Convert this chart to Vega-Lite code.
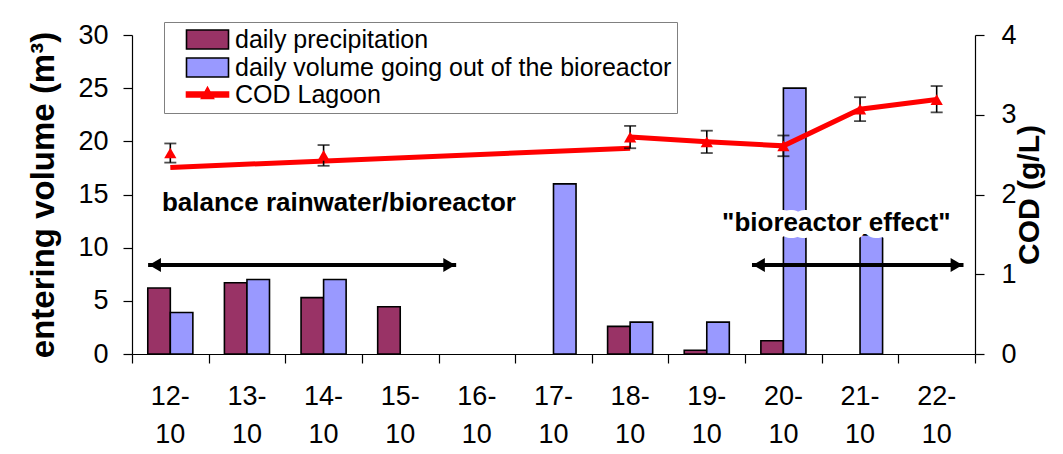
{
  "$schema": "https://vega.github.io/schema/vega-lite/v6.json",
  "width": 843,
  "height": 319,
  "autosize": {"type": "none"},
  "padding": {"left": 132, "top": 35, "right": 88, "bottom": 100},
  "background": "white",
  "config": {
    "view": {"stroke": null},
    "font": "Liberation Sans",
    "axis": {"domainColor": "black", "tickColor": "black", "labelColor": "black", "titleColor": "black", "grid": false, "domainWidth": 1.2, "tickWidth": 1.2, "labelFont": "Liberation Sans", "titleFont": "Liberation Sans"}
  },
  "datasets": {
    "bars": [
      {"date": "12-10", "series": "daily precipitation", "vol": 6.2},
      {"date": "12-10", "series": "daily volume going out of the bioreactor", "vol": 3.9},
      {"date": "13-10", "series": "daily precipitation", "vol": 6.7},
      {"date": "13-10", "series": "daily volume going out of the bioreactor", "vol": 7.0},
      {"date": "14-10", "series": "daily precipitation", "vol": 5.3},
      {"date": "14-10", "series": "daily volume going out of the bioreactor", "vol": 7.0},
      {"date": "15-10", "series": "daily precipitation", "vol": 4.45},
      {"date": "17-10", "series": "daily volume going out of the bioreactor", "vol": 16.0},
      {"date": "18-10", "series": "daily precipitation", "vol": 2.6},
      {"date": "18-10", "series": "daily volume going out of the bioreactor", "vol": 3.0},
      {"date": "19-10", "series": "daily precipitation", "vol": 0.35},
      {"date": "19-10", "series": "daily volume going out of the bioreactor", "vol": 3.0},
      {"date": "20-10", "series": "daily precipitation", "vol": 1.25},
      {"date": "20-10", "series": "daily volume going out of the bioreactor", "vol": 25.0},
      {"date": "21-10", "series": "daily volume going out of the bioreactor", "vol": 11.2}
    ],
    "cod": [
      {"date": "12-10", "cod": 2.52, "lo": 2.40, "hi": 2.64},
      {"date": "14-10", "cod": 2.49, "lo": 2.36, "hi": 2.62},
      {"date": "18-10", "cod": 2.72, "lo": 2.58, "hi": 2.86},
      {"date": "19-10", "cod": 2.66, "lo": 2.52, "hi": 2.80},
      {"date": "20-10", "cod": 2.61, "lo": 2.48, "hi": 2.74},
      {"date": "21-10", "cod": 3.07, "lo": 2.92, "hi": 3.22},
      {"date": "22-10", "cod": 3.19, "lo": 3.03, "hi": 3.36}
    ],
    "codline": [
      {"seg": "a", "date": "12-10", "cod": 2.34},
      {"seg": "a", "date": "18-10", "cod": 2.58},
      {"seg": "b", "date": "18-10", "cod": 2.72},
      {"seg": "b", "date": "19-10", "cod": 2.66},
      {"seg": "b", "date": "20-10", "cod": 2.61},
      {"seg": "b", "date": "21-10", "cod": 3.07},
      {"seg": "b", "date": "22-10", "cod": 3.19}
    ],
    "arrows": [
      {"x1": 0.21, "x2": 4.23, "yv": 8.37},
      {"x1": 8.09, "x2": 10.85, "yv": 8.37}
    ],
    "heads": [
      {"pos": 0.3, "dir": "left", "yv": 8.37},
      {"pos": 4.14, "dir": "right", "yv": 8.37},
      {"pos": 8.18, "dir": "left", "yv": 8.37},
      {"pos": 10.76, "dir": "right", "yv": 8.37}
    ],
    "notes": [
      {"pos": 0.39, "yv": 13.45, "label": "balance rainwater/bioreactor"},
      {"pos": 7.7, "yv": 11.55, "label": "\"bioreactor effect\""}
    ]
  },
  "layer": [
    {
      "data": {"name": "bars"},
      "mark": {"type": "bar", "stroke": "black", "strokeWidth": 1.6},
      "encoding": {
        "x": {
          "field": "date", "type": "ordinal", "sort": null,
          "scale": {"domain": ["12-10","13-10","14-10","15-10","16-10","17-10","18-10","19-10","20-10","21-10","22-10"], "paddingInner": 0, "paddingOuter": 0},
          "axis": {"orient": "bottom", "title": null, "labelAngle": 0, "labelExpr": "slice(datum.value,0,3)", "labelFontSize": 27, "labelPadding": 29, "ticks": false, "tickSize": 0, "domain": false}
        },
        "xOffset": {"field": "series", "type": "nominal", "scale": {"domain": ["daily precipitation", "daily volume going out of the bioreactor"], "paddingInner": 0, "paddingOuter": 0.7}},
        "y": {
          "field": "vol", "type": "quantitative",
          "scale": {"domain": [0, 30], "nice": false},
          "axis": {"orient": "left", "values": [0,5,10,15,20,25,30], "title": "entering volume  (m³)", "titleFontSize": 33, "titleFontWeight": "bold", "labelFontSize": 27, "tickSize": 9, "labelPadding": 15, "titlePadding": 17}
        },
        "color": {
          "field": "series", "type": "nominal",
          "scale": {"domain": ["daily precipitation", "daily volume going out of the bioreactor", "COD Lagoon"], "range": ["#993366", "#9999FF", "#FF0000"]},
          "legend": {
            "orient": "none", "legendX": 32, "legendY": -13, "title": null,
            "labelFont": "Liberation Sans", "labelFontSize": 25, "labelColor": "black", "labelLimit": 1000,
            "labelExpr": "datum.label == 'daily volume going out of the bioreactor' ? datum.label + '   ' : datum.label",
            "symbolType": "M-2.1,-0.95H2.1V0.95H-2.1Z", "symbolSize": 400, "symbolStrokeWidth": 1.6, "symbolStrokeColor": "black",
            "labelOffset": 15, "symbolOffset": 26, "rowPadding": 1, "padding": 5,
            "strokeColor": "#808080", "fillColor": "white",
            "encode": {"symbols": {"update": {
              "stroke": {"signal": "datum.value === 'COD Lagoon' ? '#FF0000' : '#000000'"},
              "shape": {"signal": "datum.value === 'COD Lagoon' ? 'M-2.1,-0.25H2.1V0.25H-2.1Z M-0.6,0.4L0,-0.7L0.6,0.4Z' : 'M-2.1,-0.95H2.1V0.95H-2.1Z'"}
            }}}
          }
        }
      }
    },
    {
      "layer": [
        {
          "data": {"name": "codline"},
          "mark": {"type": "line", "color": "#FF0000", "strokeWidth": 5},
          "encoding": {
            "x": {"field": "date", "type": "ordinal", "sort": null, "scale": {"domain": ["12-10","13-10","14-10","15-10","16-10","17-10","18-10","19-10","20-10","21-10","22-10"], "paddingInner": 0, "paddingOuter": 0},
              "axis": {"orient": "bottom", "title": null, "labelAngle": 0, "labelExpr": "slice(datum.value,3)", "labelFontSize": 27, "labelPadding": 67, "ticks": false, "tickSize": 0, "domain": false}},
            "y": {"field": "cod", "type": "quantitative", "scale": {"domain": [0, 4], "nice": false},
              "axis": {"orient": "right", "values": [0,1,2,3,4], "title": "COD (g/L)", "titleFontSize": 30, "titleFontWeight": "bold", "labelFontSize": 27, "tickSize": 9, "labelPadding": 17, "titleAngle": -90, "titleBaseline": "top", "titlePadding": -2}},
            "detail": {"field": "seg", "type": "nominal"}
          }
        },
        {
          "data": {"name": "cod"},
          "mark": {"type": "rule", "color": "black", "strokeWidth": 1.6},
          "encoding": {
            "x": {"field": "date", "type": "ordinal", "sort": null,
              "axis": {"orient": "bottom", "title": null, "labelAngle": 0, "labelExpr": "slice(datum.value,3)", "labelFontSize": 27, "labelPadding": 67, "ticks": false, "tickSize": 0, "domain": false}},
            "y": {"field": "lo", "type": "quantitative",
              "axis": {"orient": "right", "values": [0,1,2,3,4], "title": "COD (g/L)", "titleFontSize": 30, "titleFontWeight": "bold", "labelFontSize": 27, "tickSize": 9, "labelPadding": 17, "titleAngle": -90, "titleBaseline": "top", "titlePadding": -2}},
            "y2": {"field": "hi"}
          }
        },
        {
          "data": {"name": "cod"},
          "mark": {"type": "tick", "orient": "horizontal", "color": "black", "size": 12, "thickness": 1.8},
          "encoding": {
            "x": {"field": "date", "type": "ordinal", "sort": null,
              "axis": {"orient": "bottom", "title": null, "labelAngle": 0, "labelExpr": "slice(datum.value,3)", "labelFontSize": 27, "labelPadding": 67, "ticks": false, "tickSize": 0, "domain": false}},
            "y": {"field": "lo", "type": "quantitative",
              "axis": {"orient": "right", "values": [0,1,2,3,4], "title": "COD (g/L)", "titleFontSize": 30, "titleFontWeight": "bold", "labelFontSize": 27, "tickSize": 9, "labelPadding": 17, "titleAngle": -90, "titleBaseline": "top", "titlePadding": -2}}
          }
        },
        {
          "data": {"name": "cod"},
          "mark": {"type": "tick", "orient": "horizontal", "color": "black", "size": 12, "thickness": 1.8},
          "encoding": {
            "x": {"field": "date", "type": "ordinal", "sort": null,
              "axis": {"orient": "bottom", "title": null, "labelAngle": 0, "labelExpr": "slice(datum.value,3)", "labelFontSize": 27, "labelPadding": 67, "ticks": false, "tickSize": 0, "domain": false}},
            "y": {"field": "hi", "type": "quantitative",
              "axis": {"orient": "right", "values": [0,1,2,3,4], "title": "COD (g/L)", "titleFontSize": 30, "titleFontWeight": "bold", "labelFontSize": 27, "tickSize": 9, "labelPadding": 17, "titleAngle": -90, "titleBaseline": "top", "titlePadding": -2}}
          }
        },
        {
          "data": {"name": "cod"},
          "mark": {"type": "point", "shape": "triangle-up", "filled": true, "color": "#FF0000", "size": 150, "opacity": 1},
          "encoding": {
            "x": {"field": "date", "type": "ordinal", "sort": null,
              "axis": {"orient": "bottom", "title": null, "labelAngle": 0, "labelExpr": "slice(datum.value,3)", "labelFontSize": 27, "labelPadding": 67, "ticks": false, "tickSize": 0, "domain": false}},
            "y": {"field": "cod", "type": "quantitative",
              "axis": {"orient": "right", "values": [0,1,2,3,4], "title": "COD (g/L)", "titleFontSize": 30, "titleFontWeight": "bold", "labelFontSize": 27, "tickSize": 9, "labelPadding": 17, "titleAngle": -90, "titleBaseline": "top", "titlePadding": -2}}
          }
        }
      ]
    },
    {
      "layer": [
        {
          "data": {"name": "arrows"},
          "mark": {"type": "rule", "color": "black", "strokeWidth": 4},
          "encoding": {
            "x": {"field": "x1", "type": "quantitative", "scale": {"domain": [0, 11], "nice": false, "zero": false},
              "axis": {"orient": "bottom", "title": null, "values": [0,1,2,3,4,5,6,7,8,9,10,11], "labels": false, "tickSize": 9, "domain": true}},
            "x2": {"field": "x2"},
            "y": {"field": "yv", "type": "quantitative", "scale": {"domain": [0, 30], "nice": false}, "axis": null}
          }
        },
        {
          "data": {"name": "heads"},
          "mark": {"type": "point", "filled": true, "color": "black", "size": 190, "opacity": 1},
          "encoding": {
            "x": {"field": "pos", "type": "quantitative",
              "axis": {"orient": "bottom", "title": null, "values": [0,1,2,3,4,5,6,7,8,9,10,11], "labels": false, "tickSize": 9, "domain": true}},
            "y": {"field": "yv", "type": "quantitative", "axis": null},
            "shape": {"field": "dir", "type": "nominal", "scale": {"domain": ["left", "right"], "range": ["triangle-left", "triangle-right"]}, "legend": null}
          }
        },
        {
          "data": {"name": "notes"},
          "mark": {"type": "text", "font": "Liberation Sans", "fontWeight": "bold", "fontSize": 26, "align": "left", "baseline": "alphabetic", "fill": "white", "stroke": "white", "strokeWidth": 14, "strokeJoin": "round"},
          "encoding": {
            "x": {"field": "pos", "type": "quantitative",
              "axis": {"orient": "bottom", "title": null, "values": [0,1,2,3,4,5,6,7,8,9,10,11], "labels": false, "tickSize": 9, "domain": true}},
            "y": {"field": "yv", "type": "quantitative", "axis": null},
            "text": {"field": "label"}
          }
        },
        {
          "data": {"name": "notes"},
          "mark": {"type": "text", "font": "Liberation Sans", "fontWeight": "bold", "fontSize": 26, "align": "left", "baseline": "alphabetic", "fill": "black"},
          "encoding": {
            "x": {"field": "pos", "type": "quantitative",
              "axis": {"orient": "bottom", "title": null, "values": [0,1,2,3,4,5,6,7,8,9,10,11], "labels": false, "tickSize": 9, "domain": true}},
            "y": {"field": "yv", "type": "quantitative", "axis": null},
            "text": {"field": "label"}
          }
        }
      ]
    }
  ],
  "resolve": {"scale": {"x": "independent", "y": "independent"}}
}
